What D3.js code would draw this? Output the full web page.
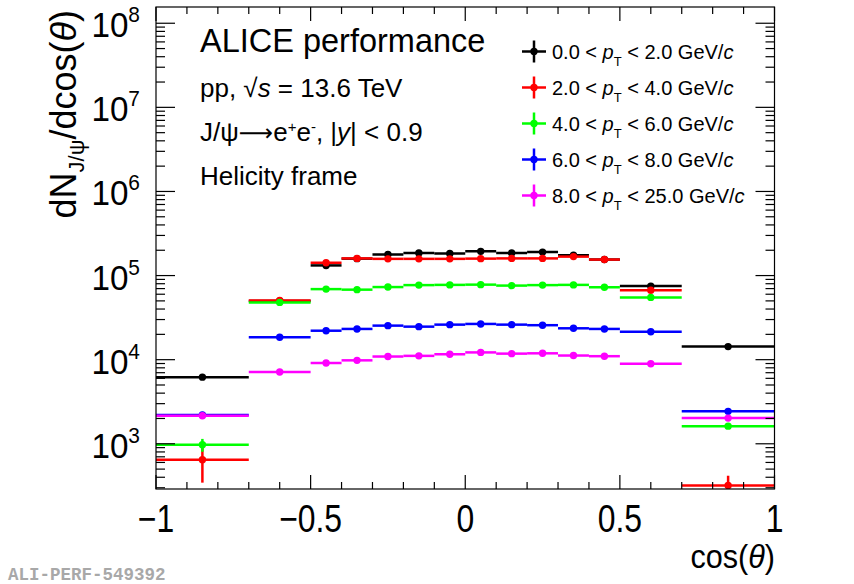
<!DOCTYPE html>
<html><head><meta charset="utf-8">
<script src="https://cdn.jsdelivr.net/npm/d3@7"></script>
<style>
html,body{margin:0;padding:0;background:#fff;}
svg text{font-family:"Liberation Sans",Arial,Helvetica,sans-serif;}
svg text.mono{font-family:"Liberation Mono","DejaVu Sans Mono",monospace;}
</style></head>
<body>
<script>
// ---- data ----
const binEdges = [-1, -0.7, -0.5, -0.4, -0.3, -0.2, -0.1, 0, 0.1, 0.2, 0.3, 0.4, 0.5, 0.7, 1];
const seriesLabels = ["0.0", "2.0", "4.0", "6.0", "8.0"];
const seriesUpper = ["2.0", "4.0", "6.0", "8.0", "25.0"];
const seriesColors = ["#000000", "#ff0000", "#00ff00", "#0000ff", "#ff00ff"];
const pt0_2   = [6200, 50000, 132000, 159000, 178000, 186000, 183000, 194000, 186000, 190000, 175000, 155000, 75000, 14300];
const pt0_2e  = [250, 900, 1500, 1500, 1600, 1600, 1600, 1700, 1600, 1600, 1600, 1500, 1200, 500];
const pt2_4   = [645, 50500, 142000, 160000, 158000, 158000, 158000, 159000, 160000, 160000, 168000, 155000, 67000, 319];
const pt2_4e  = [300, 900, 1500, 1500, 1500, 1500, 1500, 1500, 1500, 1500, 1500, 1500, 1100, 98];
const pt4_6   = [973, 48000, 69000, 68000, 73000, 77000, 77500, 78000, 76000, 77000, 77500, 72600, 55000, 1620];
const pt4_6e  = [170, 800, 900, 900, 900, 900, 900, 900, 900, 900, 900, 900, 900, 100];
const pt6_8   = [2200, 18500, 22100, 23200, 25400, 24700, 26100, 26600, 26100, 25700, 23600, 23200, 21500, 2430];
const pt6_8e  = [150, 400, 400, 400, 400, 400, 400, 400, 400, 400, 400, 400, 400, 120];
const pt8_25  = [2150, 7150, 9130, 9820, 10900, 11100, 11600, 12200, 11800, 11900, 11200, 11000, 8960, 2020];
const pt8_25e = [180, 200, 220, 220, 230, 230, 230, 240, 230, 230, 230, 230, 200, 110];
const seriesValues = [pt0_2, pt2_4, pt4_6, pt6_8, pt8_25];
const seriesErrors = [pt0_2e, pt2_4e, pt4_6e, pt6_8e, pt8_25e];
const xMajorTicks = [-1, -0.5, 0, 0.5, 1];
const xTickLabels = ["\u22121", "\u22120.5", "0", "0.5", "1"];
const yMajorExp = [3, 4, 5, 6, 7, 8];

// ---- layout ----
const W = 854, H = 584;
const L = 156, R = 774.5, T = 7, B = 489;
const svg = d3.select("body").append("svg").attr("width", W).attr("height", H);

const x = d3.scaleLinear().domain([-1, 1]).range([L, R]);
const y = d3.scaleLog().domain([290, 1.56e8]).range([B, T]);

svg.append("defs").append("clipPath").attr("id", "clip")
  .append("rect").attr("x", L).attr("y", T).attr("width", R - L).attr("height", B - T);

// ---- data marks ----
const dataG = svg.append("g").attr("clip-path", "url(#clip)");
seriesValues.forEach((vals, si) => {
  const g = dataG.append("g");
  const col = seriesColors[si];
  const errs = seriesErrors[si];
  vals.forEach((v, i) => {
    const x0 = binEdges[i], x1 = binEdges[i + 1], xc = (x0 + x1) / 2;
    g.append("line").attr("x1", x(x0)).attr("x2", x(x1)).attr("y1", y(v)).attr("y2", y(v))
      .attr("stroke", col).attr("stroke-width", 2.5);
    const lo = Math.max(v - errs[i], 1);
    g.append("line").attr("x1", x(xc)).attr("x2", x(xc)).attr("y1", y(lo)).attr("y2", y(v + errs[i]))
      .attr("stroke", col).attr("stroke-width", 2.5);
    g.append("circle").attr("cx", x(xc)).attr("cy", y(v)).attr("r", 3.7).attr("fill", col);
  });
});

// ---- frame & ticks ----
const axG = svg.append("g").attr("stroke", "#000").attr("stroke-width", 1.2);
axG.append("rect").attr("x", L).attr("y", T).attr("width", R - L).attr("height", B - T).attr("fill", "none");
for (let k = 0; k <= 20; k++) {
  const v = -1 + k * 0.1;
  const major = k % 5 === 0;
  const len = major ? 14 : 7;
  axG.append("line").attr("x1", x(v)).attr("x2", x(v)).attr("y1", B).attr("y2", B - len);
  axG.append("line").attr("x1", x(v)).attr("x2", x(v)).attr("y1", T).attr("y2", T + len);
}
for (let e = 2; e <= 8; e++) {
  for (let m = 1; m <= 9; m++) {
    const v = m * Math.pow(10, e);
    if (v < 290 || v > 1.56e8) continue;
    const len = m === 1 ? 19 : 9;
    axG.append("line").attr("x1", L).attr("x2", L + len).attr("y1", y(v)).attr("y2", y(v));
    axG.append("line").attr("x1", R).attr("x2", R - len).attr("y1", y(v)).attr("y2", y(v));
  }
}

// ---- tick labels ----
xMajorTicks.forEach((v, i) => {
  svg.append("text").attr("transform", `translate(${x(v)},532) scale(0.84,1)`)
    .attr("text-anchor", "middle").attr("font-size", 38).text(xTickLabels[i]);
});
yMajorExp.forEach(e => {
  const t = svg.append("text").attr("transform", `translate(140,${y(Math.pow(10, e)) + 14}) scale(0.95,1)`)
    .attr("text-anchor", "end").attr("font-size", 35);
  t.append("tspan").text("10");
  t.append("tspan").attr("font-size", 22).attr("dy", -15).text(String(e));
});

// ---- axis titles ----
const xt = svg.append("text").attr("transform", `translate(775,568) scale(0.9,1)`).attr("text-anchor", "end").attr("font-size", 34);
xt.append("tspan").text("cos(");
xt.append("tspan").attr("font-style", "italic").text("\u03b8");
xt.append("tspan").text(")");

const yt = svg.append("text").attr("transform", `translate(76,10) rotate(-90)`).attr("text-anchor", "end").attr("font-size", 36);
yt.append("tspan").text("dN");
yt.append("tspan").attr("font-size", 22).attr("dy", 8).text("J/\u03c8");
yt.append("tspan").attr("dy", -8).text("/dcos(");
yt.append("tspan").attr("font-style", "italic").text("\u03b8");
yt.append("tspan").text(")");

// ---- labels in plot ----
svg.append("text").attr("x", 200).attr("y", 52).attr("font-size", 32.5).text("ALICE performance");
const t2 = svg.append("text").attr("x", 200).attr("y", 97).attr("font-size", 26);
t2.append("tspan").text("pp, \u221a");
t2.append("tspan").attr("font-style", "italic").text("s");
t2.append("tspan").text(" = 13.6 TeV");
const t3 = svg.append("text").attr("x", 200).attr("y", 141).attr("font-size", 26);
t3.append("tspan").text("J/\u03c8");
t3.append("tspan").style("font-family", "'DejaVu Sans'").attr("font-size", 24).text("\u27f6");
t3.append("tspan").text("e");
t3.append("tspan").attr("font-size", 15).attr("dy", -9).text("+");
t3.append("tspan").attr("dy", 9).text("e");
t3.append("tspan").attr("font-size", 15).attr("dy", -9).text("-");
t3.append("tspan").attr("dy", 9).text(", |");
t3.append("tspan").attr("font-style", "italic").text("y");
t3.append("tspan").text("| < 0.9");
svg.append("text").attr("x", 200).attr("y", 185).attr("font-size", 26).text("Helicity frame");

// ---- legend ----
const legY0 = 51.5, legDY = 36;
seriesLabels.forEach((lab, i) => {
  const cy = legY0 + i * legDY;
  const col = seriesColors[i];
  svg.append("line").attr("x1", 522).attr("x2", 546).attr("y1", cy).attr("y2", cy).attr("stroke", col).attr("stroke-width", 2.5);
  svg.append("line").attr("x1", 534).attr("x2", 534).attr("y1", cy - 11).attr("y2", cy + 11).attr("stroke", col).attr("stroke-width", 2.5);
  svg.append("circle").attr("cx", 534).attr("cy", cy).attr("r", 3.7).attr("fill", col);
  const t = svg.append("text").attr("x", 552).attr("y", cy + 7).attr("font-size", 20);
  t.append("tspan").text(lab + " < ");
  t.append("tspan").attr("font-style", "italic").text("p");
  t.append("tspan").attr("font-size", 13).attr("dy", 7).text("T");
  t.append("tspan").attr("dy", -7).text(" < " + seriesUpper[i] + " GeV/");
  t.append("tspan").attr("font-style", "italic").text("c");
});

// ---- footer ----
svg.append("text").attr("class", "mono").attr("x", 8).attr("y", 580)
  .attr("font-size", 17.5).attr("font-weight", "bold").attr("fill", "#a8a8a8").text("ALI-PERF-549392");
</script>
</body></html>
